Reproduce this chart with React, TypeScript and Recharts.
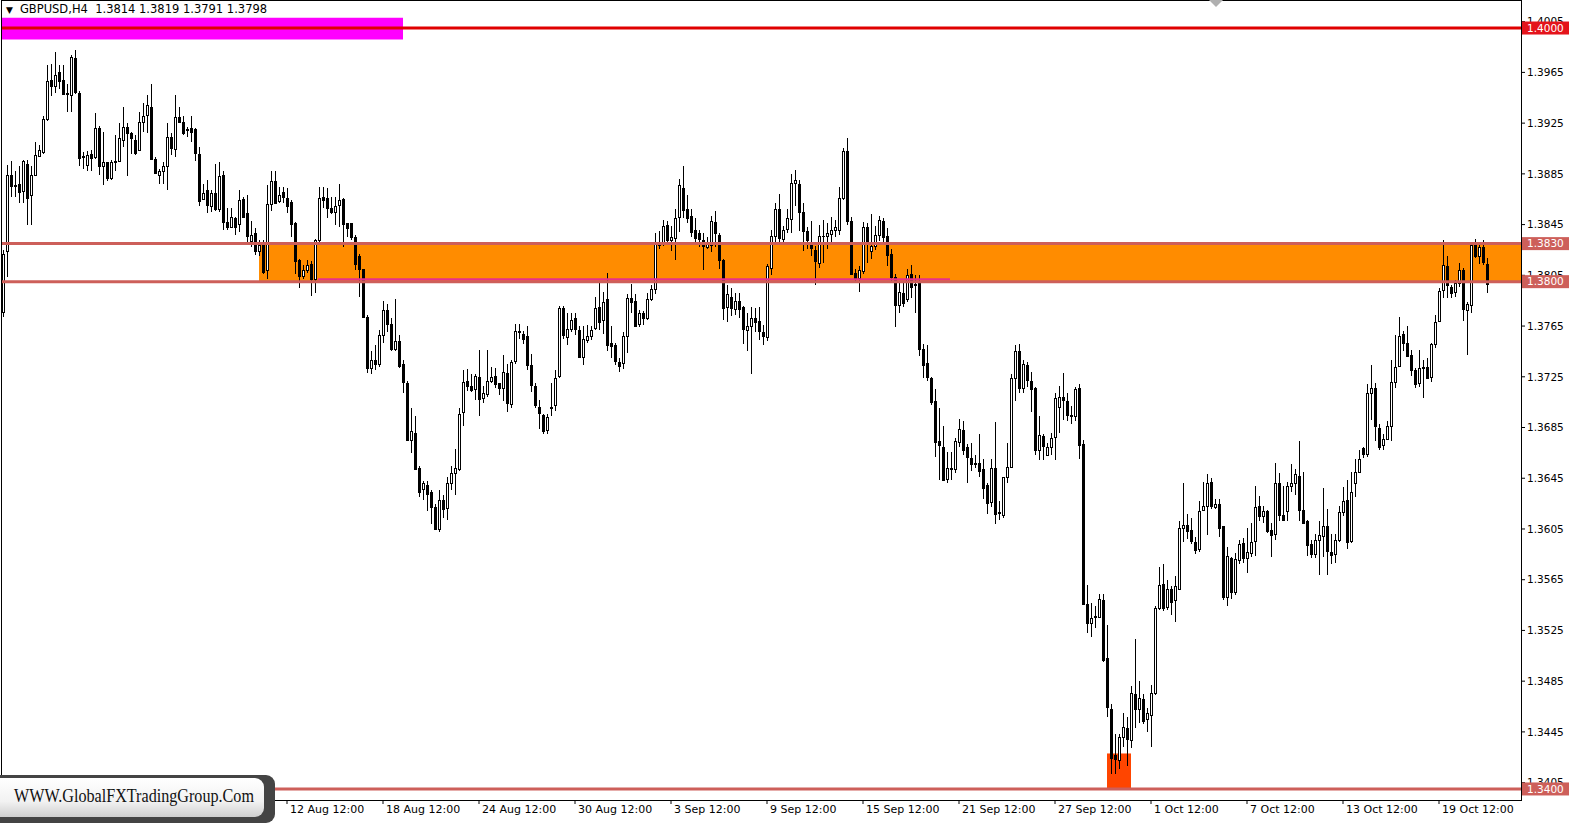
import React from 'react';
import { ComposedChart, Bar, XAxis, YAxis, ReferenceArea, ReferenceLine } from 'recharts';

type Ohlc = [number, number, number, number];

// GBPUSD H4 candles, [open, high, low, close] left to right
const barsA: Ohlc[] = [
  [1.3776, 1.3825, 1.3772, 1.3822], [1.3824, 1.3892, 1.3804, 1.3884], [1.3884, 1.3895, 1.3867, 1.3875], [1.3875, 1.3887, 1.3867, 1.3876],
  [1.3877, 1.3891, 1.3862, 1.3871], [1.3871, 1.3896, 1.3862, 1.3895], [1.3893, 1.3896, 1.3845, 1.3866], [1.3868, 1.3891, 1.3845, 1.3884],
  [1.3884, 1.3910, 1.3883, 1.39], [1.3899, 1.3908, 1.3898, 1.3904], [1.3902, 1.3931, 1.3901, 1.3928], [1.3928, 1.3971, 1.3927, 1.3958],
  [1.3959, 1.3972, 1.3946, 1.3954], [1.3954, 1.3981, 1.3949, 1.3963], [1.3965, 1.3971, 1.3952, 1.3958], [1.3959, 1.3971, 1.3947, 1.3948],
  [1.3948, 1.3956, 1.3934, 1.3949], [1.3947, 1.3979, 1.3934, 1.3977], [1.3976, 1.3983, 1.3948, 1.3949], [1.3949, 1.395, 1.3891, 1.3898],
  [1.3898, 1.3902, 1.3889, 1.3899], [1.3892, 1.3903, 1.3887, 1.39], [1.3901, 1.3904, 1.3887, 1.3898], [1.3898, 1.3933, 1.3897, 1.3921],
  [1.3921, 1.3923, 1.3884, 1.3891], [1.3891, 1.3918, 1.3876, 1.3894], [1.3894, 1.3894, 1.3879, 1.3881], [1.3881, 1.3896, 1.388, 1.3894],
  [1.3894, 1.3916, 1.3887, 1.3895], [1.3895, 1.3925, 1.3894, 1.3913], [1.3912, 1.3938, 1.3906, 1.3922], [1.3922, 1.3925, 1.3883, 1.3917],
  [1.3917, 1.3918, 1.3901, 1.3913], [1.3912, 1.3916, 1.39, 1.3902], [1.3904, 1.3934, 1.3904, 1.3926], [1.3926, 1.3941, 1.3918, 1.3931],
  [1.3931, 1.3947, 1.3917, 1.3939], [1.3938, 1.3956, 1.3897, 1.3897], [1.3897, 1.3898, 1.3885, 1.3886], [1.3884, 1.3889, 1.3877, 1.3887],
  [1.3887, 1.3894, 1.3877, 1.3891], [1.3891, 1.3925, 1.3872, 1.3914], [1.3914, 1.3917, 1.39, 1.3905], [1.3905, 1.3947, 1.3898, 1.393],
  [1.393, 1.3938, 1.3925, 1.3926], [1.3926, 1.3931, 1.3916, 1.3917], [1.3919, 1.3922, 1.3914, 1.392], [1.3921, 1.3931, 1.391, 1.3918],
];

const barsB: Ohlc[] = [
  [1.392, 1.3921, 1.3895, 1.3901], [1.3901, 1.3906, 1.386, 1.3864], [1.3865, 1.3877, 1.3864, 1.387], [1.3872, 1.388, 1.3854, 1.386],
  [1.386, 1.3872, 1.3855, 1.387], [1.387, 1.3893, 1.3856, 1.3857], [1.3857, 1.3894, 1.3855, 1.3883], [1.3884, 1.3887, 1.3841, 1.3847],
  [1.3847, 1.3858, 1.3841, 1.3843], [1.3843, 1.3858, 1.3843, 1.3851], [1.385, 1.3851, 1.3837, 1.3843], [1.3845, 1.3872, 1.3839, 1.3864],
  [1.3865, 1.3867, 1.385, 1.3851], [1.3854, 1.3868, 1.3829, 1.3836], [1.3832, 1.3848, 1.3827, 1.3837], [1.3838, 1.3842, 1.3821, 1.3824],
  [1.3824, 1.3833, 1.382, 1.3829], [1.383, 1.3833, 1.3806, 1.3808], [1.3809, 1.3876, 1.3802, 1.3861], [1.3861, 1.3887, 1.3856, 1.3879],
  [1.3879, 1.3887, 1.3861, 1.3862], [1.3863, 1.3875, 1.3862, 1.3868], [1.3871, 1.3875, 1.3862, 1.3867], [1.3866, 1.3874, 1.3854, 1.386],
  [1.3863, 1.3864, 1.3835, 1.3846], [1.3846, 1.3847, 1.3806, 1.3816], [1.3817, 1.3818, 1.3795, 1.3804], [1.3804, 1.3813, 1.3802, 1.3809],
  [1.3809, 1.3817, 1.3807, 1.3813], [1.3814, 1.3816, 1.3789, 1.3802], [1.3802, 1.3834, 1.3791, 1.3833], [1.3833, 1.3875, 1.3831, 1.3866],
  [1.3867, 1.3875, 1.3858, 1.3865], [1.3866, 1.3874, 1.385, 1.3858], [1.3858, 1.3867, 1.3853, 1.3855], [1.3855, 1.3867, 1.3845, 1.386],
  [1.386, 1.3877, 1.3843, 1.3864], [1.3865, 1.3866, 1.3827, 1.3845], [1.3846, 1.3846, 1.3835, 1.3842], [1.3846, 1.3846, 1.3833, 1.3835],
  [1.3835, 1.3837, 1.3809, 1.3814], [1.382, 1.3822, 1.3788, 1.381], [1.381, 1.381, 1.3772, 1.3772], [1.3772, 1.3774, 1.3728, 1.3732],
  [1.3732, 1.3745, 1.3727, 1.3738], [1.3738, 1.375, 1.373, 1.3735], [1.3735, 1.3762, 1.3733, 1.3758], [1.3758, 1.3785, 1.3752, 1.3778],
  [1.3778, 1.3782, 1.376, 1.3767],
];

const barsC: Ohlc[] = [
  [1.3767, 1.3771, 1.3745, 1.3747], [1.3747, 1.3786, 1.3745, 1.3753], [1.3753, 1.3758, 1.3732, 1.3733], [1.3735, 1.3738, 1.3712, 1.3721],
  [1.372, 1.3722, 1.3674, 1.3675], [1.3675, 1.37, 1.3665, 1.3682], [1.3681, 1.3694, 1.3653, 1.3653], [1.3653, 1.3655, 1.363, 1.3634],
  [1.3636, 1.3643, 1.3628, 1.3641], [1.364, 1.3643, 1.3619, 1.3633], [1.3634, 1.3636, 1.3609, 1.3622], [1.3622, 1.3625, 1.3604, 1.3605],
  [1.3605, 1.3636, 1.3603, 1.3628], [1.3628, 1.3632, 1.3614, 1.3621], [1.3621, 1.3646, 1.3612, 1.3641], [1.3641, 1.3655, 1.3636, 1.3649],
  [1.3649, 1.3668, 1.3632, 1.3653], [1.3653, 1.37, 1.3651, 1.3696], [1.3697, 1.373, 1.3686, 1.3721], [1.3722, 1.3731, 1.3714, 1.3718],
  [1.3718, 1.3727, 1.3713, 1.3715], [1.3716, 1.3727, 1.3707, 1.3726], [1.3725, 1.3746, 1.3694, 1.3708], [1.3708, 1.3718, 1.3704, 1.3712],
  [1.3712, 1.3746, 1.3709, 1.3722], [1.3722, 1.3733, 1.372, 1.3725], [1.3726, 1.3732, 1.3716, 1.372], [1.372, 1.372, 1.3711, 1.3716],
  [1.3716, 1.3742, 1.3706, 1.3729], [1.3728, 1.3735, 1.3697, 1.3704], [1.3704, 1.3738, 1.37, 1.3737], [1.3737, 1.3767, 1.3735, 1.3761],
  [1.3761, 1.3767, 1.3755, 1.376], [1.3759, 1.3761, 1.3751, 1.3755], [1.3757, 1.3765, 1.373, 1.3734], [1.3734, 1.3743, 1.3713, 1.3718],
  [1.3718, 1.372, 1.37, 1.3703], [1.3701, 1.3707, 1.3684, 1.3696], [1.3695, 1.3696, 1.368, 1.3682], [1.3683, 1.3696, 1.368, 1.3693],
  [1.37, 1.372, 1.3694, 1.3701], [1.3703, 1.373, 1.3698, 1.3724], [1.3725, 1.3781, 1.3724, 1.3779], [1.3779, 1.3781, 1.3755, 1.3758],
  [1.3757, 1.3775, 1.375, 1.3763], [1.3763, 1.3775, 1.376, 1.377], [1.3771, 1.3775, 1.3758, 1.3762], [1.3762, 1.3765, 1.374, 1.3741],
  [1.3741, 1.3765, 1.3734, 1.3755], [1.3754, 1.3766, 1.3752, 1.3757], [1.3757, 1.3765, 1.3754, 1.3762], [1.3763, 1.3788, 1.3762, 1.3779],
  [1.378, 1.38, 1.3762, 1.3768], [1.377, 1.3792, 1.3759, 1.3784], [1.3786, 1.3807, 1.3745, 1.375], [1.3752, 1.3765, 1.374, 1.375],
  [1.375, 1.3752, 1.3734, 1.3737], [1.3737, 1.374, 1.3729, 1.3734], [1.3736, 1.376, 1.3731, 1.3757], [1.3757, 1.379, 1.3744, 1.3787],
  [1.3787, 1.3798, 1.3775, 1.3784], [1.3785, 1.379, 1.3764, 1.3765], [1.3766, 1.3778, 1.3764, 1.3775], [1.3775, 1.3777, 1.3766, 1.3771],
  [1.3771, 1.3791, 1.377, 1.3786],
];

const barsD: Ohlc[] = [
  [1.3786, 1.3797, 1.3785, 1.3794], [1.3794, 1.3838, 1.379, 1.3831], [1.3831, 1.384, 1.3826, 1.3829], [1.383, 1.3849, 1.3828, 1.3844],
  [1.3845, 1.3848, 1.383, 1.3833], [1.3833, 1.3844, 1.3824, 1.3835], [1.3834, 1.3857, 1.3817, 1.385], [1.3851, 1.3881, 1.3839, 1.3876],
  [1.3874, 1.3891, 1.385, 1.3857], [1.3857, 1.3868, 1.3846, 1.385], [1.3852, 1.3857, 1.3835, 1.3839], [1.3841, 1.385, 1.3829, 1.3835],
  [1.3838, 1.3841, 1.3827, 1.3833], [1.3833, 1.3838, 1.3809, 1.3828], [1.3828, 1.3835, 1.3826, 1.383], [1.3829, 1.3852, 1.3823, 1.3848],
  [1.3847, 1.3856, 1.3827, 1.3838], [1.3837, 1.3838, 1.381, 1.3817], [1.3817, 1.3818, 1.377, 1.3779], [1.378, 1.3797, 1.3768, 1.379],
  [1.3788, 1.3795, 1.3773, 1.3779], [1.3779, 1.3791, 1.3774, 1.3785], [1.3785, 1.3791, 1.3771, 1.3779], [1.378, 1.3781, 1.3751, 1.3763],
  [1.3762, 1.3775, 1.3745, 1.3765], [1.3765, 1.378, 1.3727, 1.3771], [1.3771, 1.3779, 1.376, 1.3768], [1.3769, 1.378, 1.3754, 1.3761],
  [1.376, 1.3766, 1.375, 1.3757], [1.3756, 1.3814, 1.3753, 1.3812], [1.3811, 1.3841, 1.3805, 1.3836], [1.3836, 1.3862, 1.383, 1.3857],
  [1.3857, 1.3869, 1.383, 1.3834], [1.3834, 1.3844, 1.383, 1.3841], [1.3841, 1.3857, 1.3838, 1.385], [1.385, 1.3885, 1.3838, 1.3878],
  [1.3878, 1.3888, 1.386, 1.388], [1.3877, 1.388, 1.384, 1.3855], [1.3855, 1.3862, 1.3824, 1.384], [1.384, 1.3843, 1.3826, 1.3833],
  [1.3831, 1.3848, 1.382, 1.3826], [1.3825, 1.3828, 1.3797, 1.3816], [1.3815, 1.3845, 1.3811, 1.3836], [1.3836, 1.3849, 1.3815, 1.3836],
  [1.3836, 1.3846, 1.3826, 1.3838], [1.3838, 1.3851, 1.3831, 1.3841], [1.3841, 1.3849, 1.3835, 1.3843], [1.3841, 1.3875, 1.3837, 1.3866],
  [1.3866, 1.3905, 1.3864, 1.3903], [1.3903, 1.3913, 1.3845, 1.3848], [1.3848, 1.3851, 1.3805, 1.3806], [1.3807, 1.381, 1.38, 1.3803],
  [1.3803, 1.3812, 1.3792, 1.3809], [1.3808, 1.3847, 1.3806, 1.3843], [1.3843, 1.3846, 1.3815, 1.3831], [1.3824, 1.3853, 1.3818, 1.3828],
  [1.3828, 1.3844, 1.3825, 1.3837], [1.3837, 1.3852, 1.3832, 1.3849], [1.3848, 1.385, 1.383, 1.3835], [1.3836, 1.3842, 1.3812, 1.3821],
  [1.3822, 1.3826, 1.38, 1.3804], [1.3804, 1.3806, 1.3764, 1.3782],
];

const barsE: Ohlc[] = [
  [1.3782, 1.3799, 1.3775, 1.3792], [1.3791, 1.3799, 1.378, 1.3783], [1.3786, 1.381, 1.3784, 1.3805], [1.3806, 1.3813, 1.3787, 1.3796],
  [1.3797, 1.3805, 1.3775, 1.3798], [1.3799, 1.3805, 1.3741, 1.3747], [1.3747, 1.3751, 1.3724, 1.3734], [1.3736, 1.375, 1.3722, 1.3725],
  [1.3724, 1.3725, 1.3703, 1.3705], [1.3706, 1.3715, 1.3662, 1.3674], [1.3674, 1.37, 1.3644, 1.3671], [1.367, 1.3686, 1.3643, 1.3644],
  [1.3644, 1.3666, 1.3641, 1.3653], [1.3653, 1.3666, 1.3644, 1.3652], [1.3652, 1.3677, 1.3649, 1.3674], [1.3674, 1.3692, 1.367, 1.3684],
  [1.3683, 1.369, 1.3663, 1.3667], [1.367, 1.3672, 1.3641, 1.3662], [1.3661, 1.3673, 1.3651, 1.3656], [1.3657, 1.3663, 1.3653, 1.3656],
  [1.3657, 1.368, 1.3646, 1.3651], [1.3652, 1.366, 1.3629, 1.3637], [1.364, 1.3641, 1.3617, 1.3626], [1.3626, 1.366, 1.3622, 1.3653],
  [1.3653, 1.3689, 1.3609, 1.3617], [1.3617, 1.3627, 1.3612, 1.3618], [1.3616, 1.3646, 1.3614, 1.3646], [1.3646, 1.3673, 1.3641, 1.3654],
  [1.3654, 1.3727, 1.3653, 1.3724], [1.3724, 1.375, 1.3706, 1.3745], [1.3745, 1.3751, 1.3712, 1.3716], [1.3716, 1.3738, 1.3712, 1.3735],
  [1.3734, 1.3737, 1.3717, 1.3722], [1.3722, 1.3729, 1.3697, 1.3716], [1.3716, 1.3717, 1.3663, 1.3667], [1.3667, 1.3694, 1.3659, 1.3679],
  [1.3678, 1.368, 1.3659, 1.367], [1.3664, 1.3673, 1.3663, 1.367], [1.367, 1.3681, 1.3663, 1.3677], [1.3677, 1.3712, 1.3659, 1.3708],
  [1.3701, 1.3718, 1.3681, 1.3709], [1.3709, 1.3728, 1.3691, 1.3707], [1.3706, 1.3712, 1.369, 1.3695], [1.3695, 1.3702, 1.3688, 1.3694],
  [1.3694, 1.3717, 1.369, 1.3715], [1.3716, 1.3719, 1.366, 1.3671], [1.3672, 1.3675, 1.3545, 1.3546],
];

const barsF: Ohlc[] = [
  [1.3546, 1.3561, 1.3523, 1.3531], [1.3531, 1.3547, 1.352, 1.3535], [1.3535, 1.3544, 1.3527, 1.3536], [1.3536, 1.3554, 1.3535, 1.355],
  [1.3549, 1.3554, 1.35, 1.3502], [1.3503, 1.3529, 1.3457, 1.3464], [1.3463, 1.3467, 1.3412, 1.3424], [1.3427, 1.3443, 1.3412, 1.3424],
  [1.3423, 1.3443, 1.3416, 1.3441], [1.3441, 1.346, 1.3433, 1.3449], [1.3448, 1.3457, 1.3418, 1.3439], [1.3439, 1.3481, 1.3432, 1.3476],
  [1.3475, 1.3518, 1.3448, 1.3463], [1.3463, 1.3485, 1.3452, 1.3472], [1.3471, 1.3475, 1.3451, 1.3454], [1.3455, 1.3464, 1.3445, 1.346],
  [1.3459, 1.3482, 1.3433, 1.3476], [1.3476, 1.3544, 1.3474, 1.3543], [1.3543, 1.3575, 1.3541, 1.3561], [1.3562, 1.3577, 1.354, 1.3543],
  [1.3544, 1.3565, 1.3541, 1.3558], [1.3558, 1.356, 1.3537, 1.3548], [1.3549, 1.3568, 1.3532, 1.356], [1.3558, 1.3611, 1.3557, 1.3606],
  [1.3606, 1.3641, 1.3595, 1.3608], [1.3608, 1.3617, 1.3597, 1.3603], [1.3604, 1.3614, 1.3593, 1.3595], [1.3595, 1.3599, 1.3585, 1.3589],
  [1.3589, 1.3627, 1.3587, 1.3619], [1.362, 1.3642, 1.3619, 1.3623], [1.3623, 1.3648, 1.36, 1.3641], [1.3642, 1.3645, 1.3621, 1.3623],
  [1.3623, 1.3629, 1.3621, 1.3625], [1.3625, 1.3629, 1.3599, 1.3606], [1.3607, 1.3607, 1.3549, 1.3551], [1.3552, 1.3591, 1.3544, 1.3584],
  [1.3582, 1.3583, 1.355, 1.3555], [1.3555, 1.3586, 1.3553, 1.3581], [1.358, 1.3596, 1.3577, 1.3593], [1.3594, 1.3598, 1.3578, 1.3582],
  [1.3582, 1.3606, 1.357, 1.3587], [1.3586, 1.361, 1.3583, 1.3595], [1.3595, 1.3639, 1.3584, 1.3622], [1.3623, 1.3631, 1.3611, 1.3615],
  [1.3615, 1.3623, 1.361, 1.3619], [1.3619, 1.362, 1.3602, 1.3603], [1.3604, 1.361, 1.3583, 1.36], [1.3601, 1.3657, 1.3596, 1.3641],
  [1.3641, 1.3649, 1.3611, 1.3616], [1.3616, 1.3639, 1.3611, 1.3612], [1.3619, 1.3642, 1.3611, 1.3639], [1.3639, 1.3656, 1.3634, 1.3641],
  [1.3641, 1.3652, 1.3632, 1.3648],
];

const barsG: Ohlc[] = [
  [1.3647, 1.3674, 1.3611, 1.362], [1.362, 1.365, 1.3609, 1.361], [1.3611, 1.3612, 1.3584, 1.3592], [1.3593, 1.3596, 1.3582, 1.3585],
  [1.3585, 1.3601, 1.3582, 1.3596], [1.3596, 1.3611, 1.3569, 1.36], [1.3599, 1.3637, 1.3583, 1.3607], [1.3607, 1.3621, 1.3569, 1.3587],
  [1.3587, 1.3601, 1.3577, 1.3585], [1.3585, 1.3601, 1.3578, 1.3596], [1.3596, 1.3623, 1.3595, 1.3618], [1.3618, 1.3638, 1.3615, 1.3627],
  [1.3628, 1.3644, 1.3589, 1.3595], [1.3595, 1.365, 1.3594, 1.3634], [1.3641, 1.366, 1.363, 1.365], [1.365, 1.3667, 1.3649, 1.366],
  [1.3669, 1.367, 1.3661, 1.3664], [1.3664, 1.3719, 1.3662, 1.3712], [1.3712, 1.3734, 1.3691, 1.3716], [1.3716, 1.372, 1.3674, 1.3686],
  [1.3685, 1.3688, 1.3667, 1.367], [1.3671, 1.368, 1.3667, 1.3676], [1.3676, 1.369, 1.3675, 1.3686], [1.3686, 1.3738, 1.3674, 1.3721],
  [1.3721, 1.3758, 1.3716, 1.3733], [1.3733, 1.3772, 1.3733, 1.3757], [1.3759, 1.3761, 1.3745, 1.3752], [1.3752, 1.3765, 1.3741, 1.3742],
  [1.3742, 1.3746, 1.3726, 1.373], [1.373, 1.3732, 1.3716, 1.3719], [1.372, 1.3746, 1.3717, 1.3732], [1.3732, 1.3738, 1.3708, 1.3733],
  [1.3733, 1.374, 1.3723, 1.3724], [1.3725, 1.3752, 1.3721, 1.3751], [1.3751, 1.3774, 1.3748, 1.3768], [1.3769, 1.3795, 1.3768, 1.3793],
  [1.3793, 1.3833, 1.3787, 1.3813], [1.3812, 1.382, 1.3787, 1.3797], [1.3796, 1.3797, 1.3787, 1.3791], [1.3792, 1.3801, 1.3788, 1.3799],
  [1.3799, 1.3815, 1.3796, 1.3809], [1.3809, 1.3811, 1.3769, 1.3778], [1.3777, 1.3784, 1.3742, 1.3782], [1.3782, 1.383, 1.3775, 1.3829],
  [1.3829, 1.3834, 1.3819, 1.382], [1.382, 1.383, 1.3814, 1.3827], [1.3827, 1.3833, 1.3813, 1.3815], [1.3814, 1.3819, 1.3791, 1.3798],
];

// time axis labels and the bar index each one sits on
const xTickLabels = ['12 Aug 12:00', '18 Aug 12:00', '24 Aug 12:00', '30 Aug 12:00', '3 Sep 12:00', '9 Sep 12:00', '15 Sep 12:00',
  '21 Sep 12:00', '27 Sep 12:00', '1 Oct 12:00', '7 Oct 12:00', '13 Oct 12:00', '19 Oct 12:00'];
const xTickIdx = [71, 95, 119, 143, 167, 191, 215, 239, 263, 287, 311, 335, 359];

const priceTicks = [1.4005, 1.3965, 1.3925, 1.3885, 1.3845, 1.3805, 1.3765, 1.3725, 1.3685, 1.3645, 1.3605, 1.3565, 1.3525, 1.3485, 1.3445, 1.3405];
// horizontal levels drawn on the chart (also tagged on the price scale)
const levels = [1.4, 1.383, 1.38, 1.34];
const levelColors = ['#e4141b', '#cd5f5a', '#cd5f5a', '#cd5f5a'];

// zones: [fromBar, toBar, lowPrice, highPrice]
const resistanceZone = [64, 379.5, 1.38, 1.383];
const targetBox = [-0.5, 100, 1.3991, 1.4008];
const lowBox = [276, 282, 1.34, 1.3428];
const pinkLine = [78.75, 236.75, 1.3802];

const header = 'GBPUSD,H4  1.3814 1.3819 1.3791 1.3798';

const FONT = 'Tahoma, "DejaVu Sans", sans-serif';

const data = [...barsA, ...barsB, ...barsC, ...barsD, ...barsE, ...barsF, ...barsG].map(([o, h, l, c], i) => ({
  i, o, h, l, c, range: [l, h],
}));

const CandleShape = (p: any) => {
  const { x, y, width, height, payload } = p;
  if (!payload || !height) return null;
  const { o, h, l, c } = payload;
  const k = height / (h - l);
  const py = (v: number) => y + (h - v) * k;
  const cx = Math.round(x + width / 2);
  const top = py(Math.max(o, c));
  const bot = py(Math.min(o, c));
  const up = c >= o;
  return (
    <g shapeRendering="crispEdges">
      <line x1={cx + 0.5} x2={cx + 0.5} y1={y} y2={y + height} stroke="#000" strokeWidth={1} />
      {bot - top < 1.2 ? (
        <line x1={cx - 1} x2={cx + 2} y1={Math.round(top) + 0.5} y2={Math.round(top) + 0.5} stroke="#000" strokeWidth={1} />
      ) : (
        <rect x={cx - 0.5} y={Math.round(top) + 0.5} width={2} height={Math.max(1, Math.round(bot - top))} fill={up ? '#fff' : '#000'} stroke="#000" strokeWidth={1} />
      )}
    </g>
  );
};

const XTick = (p: any) => {
  const label = xTickLabels[p.index];
  if (!label) return null;
  return (
    <text x={p.x + 3} y={p.y} dy="0.71em" textAnchor="start" fontSize={11} fontFamily={FONT} fill="#000">
      {label}
    </text>
  );
};

const YTick = (p: any) => {
  const v: number = p.payload.value;
  const li = p.index - priceTicks.length;
  if (li >= 0) {
    return (
      <g>
        <rect x={p.x - 5} y={p.y - 6.5} width={47} height={13} fill={levelColors[li]} />
        <text x={p.x} y={p.y} dy="0.36em" textAnchor="start" fontSize={10.5} fontFamily={FONT} fill="#fff">
          {v.toFixed(4)}
        </text>
      </g>
    );
  }
  return (
    <text x={p.x} y={p.y} dy="0.36em" textAnchor="start" fontSize={10.5} fontFamily={FONT} fill="#000">
      {v.toFixed(4)}
    </text>
  );
};

export default function App() {
  return (
    <div style={{ position: 'absolute', left: 0, top: 0, width: 1573, height: 823, background: '#fff', overflow: 'hidden' }}>
      <ComposedChart width={1573} height={823} data={data} margin={{ top: 1, right: 0, bottom: 0, left: 1 }}>
        <XAxis
          type="number"
          dataKey="i"
          domain={[-0.5, 379.5]}
          ticks={xTickIdx}
          interval={0}
          allowDataOverflow
          height={23}
          axisLine={false}
          tickLine={{ stroke: '#000' }}
          tickSize={4}
          tickMargin={1}
          tick={<XTick />}
        />
        <YAxis
          type="number"
          orientation="right"
          domain={[1.33913, 1.40213]}
          ticks={[...priceTicks, ...levels]}
          interval={0}
          allowDataOverflow
          width={52}
          axisLine={false}
          tickLine={{ stroke: '#000' }}
          tickSize={4}
          tickMargin={2}
          tick={<YTick />}
        />
        <ReferenceArea x1={targetBox[0]} x2={targetBox[1]} y1={targetBox[2]} y2={targetBox[3]} fill="#ff00ff" fillOpacity={1} stroke="none" />
        <ReferenceArea x1={resistanceZone[0]} x2={resistanceZone[1]} y1={resistanceZone[2]} y2={resistanceZone[3]} fill="#ff8c00" fillOpacity={1} stroke="none" />
        <ReferenceArea x1={lowBox[0]} x2={lowBox[1]} y1={lowBox[2]} y2={lowBox[3]} fill="#ff4500" fillOpacity={1} stroke="none" />
        {levels.map((v, k) => (
          <ReferenceLine key={v} y={v} stroke={k === 0 ? '#e00000' : '#cd5f5a'} strokeWidth={3} />
        ))}
        <ReferenceLine
          segment={[{ x: pinkLine[0], y: pinkLine[2] }, { x: pinkLine[1], y: pinkLine[2] }]}
          stroke="#e8308a"
          strokeWidth={2}
        />
        <Bar dataKey="range" barSize={4} shape={CandleShape} isAnimationActive={false} />
      </ComposedChart>

      {/* chart frame */}
      <div style={{ position: 'absolute', left: 1, top: 0, width: 1521, height: 801, border: '1px solid #000', boxSizing: 'border-box', pointerEvents: 'none' }} />

      {/* symbol header */}
      <div style={{ position: 'absolute', left: 6, top: 2, fontFamily: FONT, fontSize: 11.5, color: '#000', whiteSpace: 'pre', lineHeight: '15px' }}>
        <span style={{ fontSize: 9, marginRight: 7 }}>▼</span>
        {header}
      </div>

      {/* chart shift marker */}
      <svg style={{ position: 'absolute', left: 1209, top: 0 }} width={14} height={8}>
        <polygon points="0,0 14,0 7,7" fill="#b0b0b0" />
      </svg>

      {/* watermark */}
      <svg style={{ position: 'absolute', left: 0, top: 772 }} width={280} height={51}>
        <defs>
          <linearGradient id="wm" x1="0" y1="0" x2="0" y2="1">
            <stop offset="0" stopColor="#ffffff" />
            <stop offset="0.6" stopColor="#f2f2f2" />
            <stop offset="1" stopColor="#cfcfcf" />
          </linearGradient>
        </defs>
        <rect x={-10} y={3} width={285} height={48} rx={9} fill="#444" />
        <rect x={-10} y={6} width={274} height={39} rx={9} fill="url(#wm)" />
        <text x={14} y={30} fontFamily='"Liberation Serif", serif' fontSize={18} textLength={240} lengthAdjust="spacingAndGlyphs" fill="#111">
          WWW.GlobalFXTradingGroup.Com
        </text>
      </svg>
    </div>
  );
}
